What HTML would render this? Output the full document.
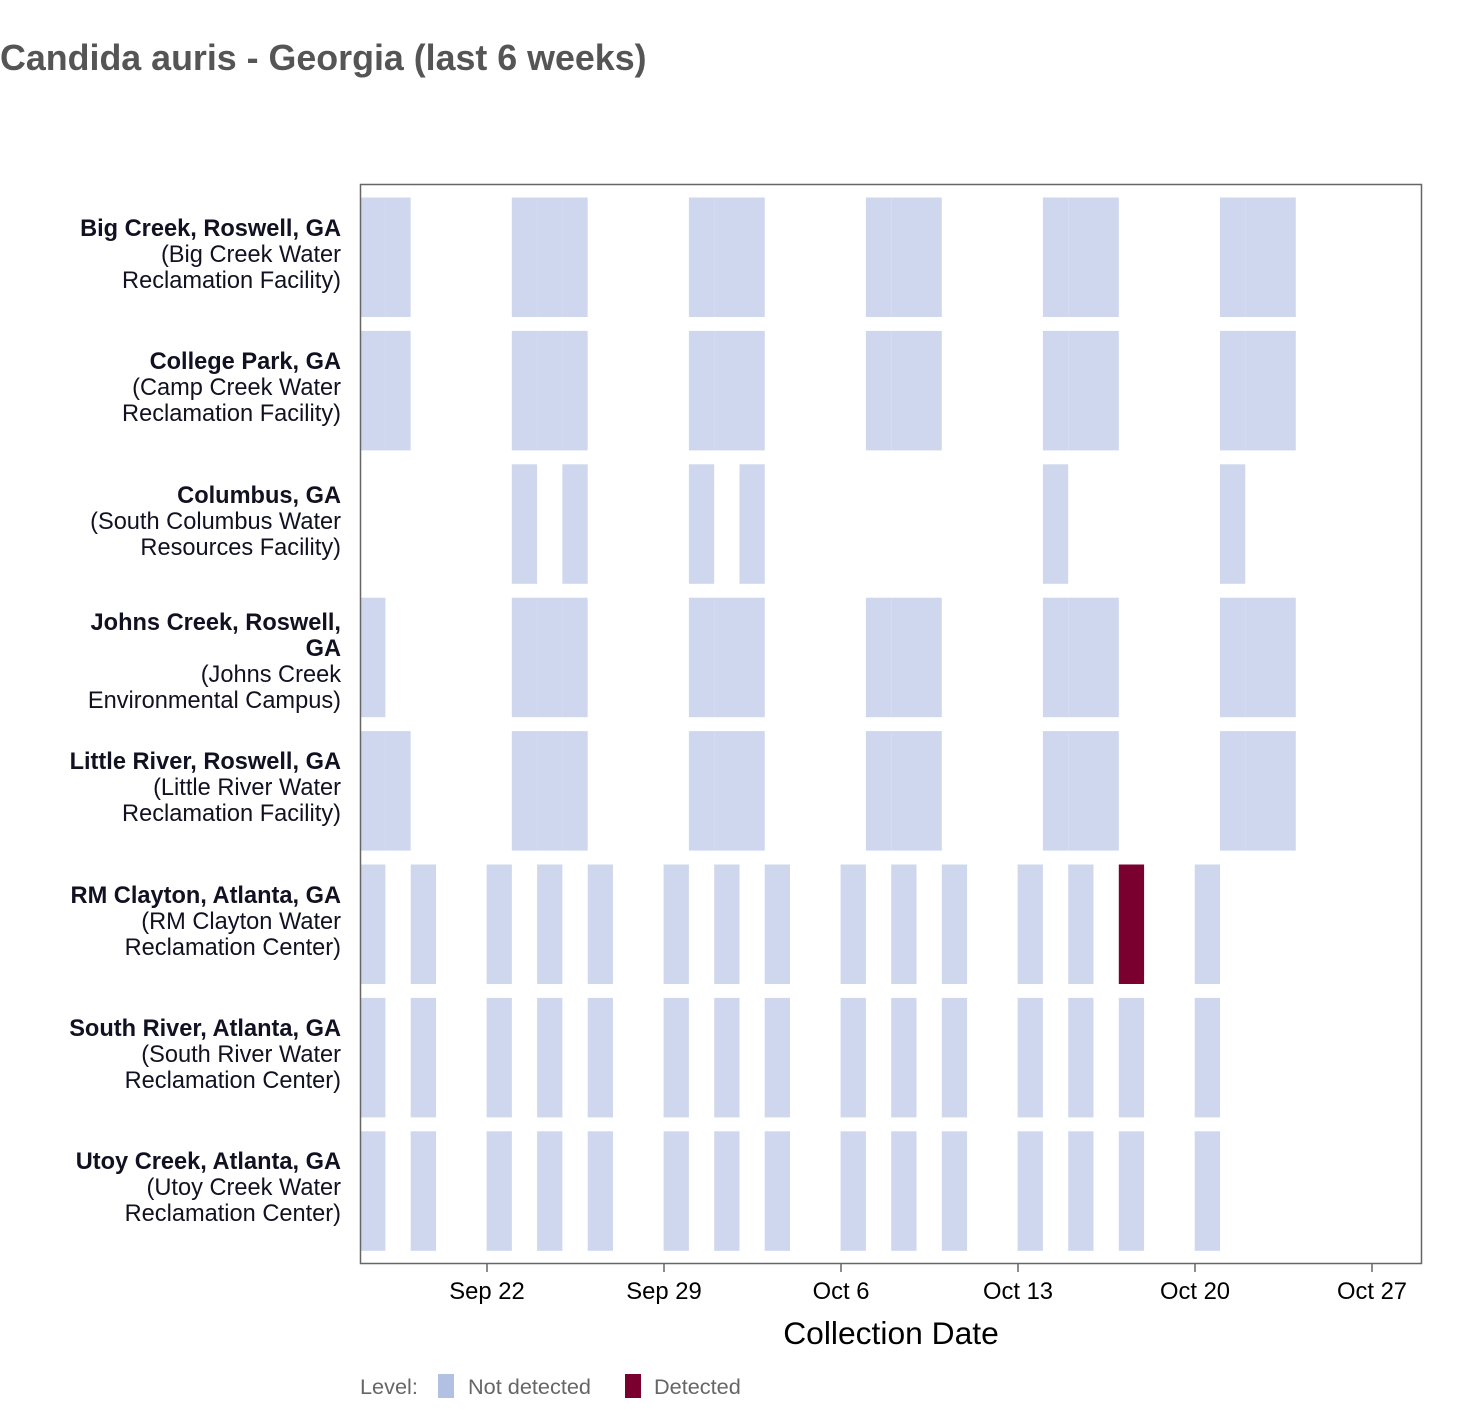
<!DOCTYPE html>
<html><head><meta charset="utf-8"><style>
body{margin:0;background:#fff;}
svg{display:block;font-family:"Liberation Sans",Arial,sans-serif;}
</style></head><body>
<svg id="s" width="1462" height="1414" xmlns="http://www.w3.org/2000/svg">
<text x="0" y="70" font-size="35.8" font-weight="bold" fill="#555">Candida auris - Georgia (last 6 weeks)</text>
<g id="bars"></g>
<rect x="360.5" y="184.5" width="1061" height="1079" fill="none" stroke="#666" stroke-width="1.5"/>
<g stroke="#666" stroke-width="1.5">
<line x1="487" y1="1263" x2="487" y2="1272"/><line x1="664" y1="1263" x2="664" y2="1272"/>
<line x1="841" y1="1263" x2="841" y2="1272"/><line x1="1018" y1="1263" x2="1018" y2="1272"/>
<line x1="1195" y1="1263" x2="1195" y2="1272"/><line x1="1372" y1="1263" x2="1372" y2="1272"/>
</g>
<g font-size="23.8" fill="#000" text-anchor="middle">
<text x="487" y="1299">Sep 22</text><text x="664" y="1299">Sep 29</text><text x="841" y="1299">Oct 6</text>
<text x="1018" y="1299">Oct 13</text><text x="1195" y="1299">Oct 20</text><text x="1372" y="1299">Oct 27</text>
<text x="891" y="1344" font-size="31.8">Collection Date</text>
</g>
<g font-size="23.6" fill="#111122" text-anchor="end">
<text x="341" y="236"><tspan font-weight="bold">Big Creek, Roswell, GA</tspan><tspan x="341" dy="26">(Big Creek Water</tspan><tspan x="341" dy="26">Reclamation Facility)</tspan></text>
<text x="341" y="369"><tspan font-weight="bold">College Park, GA</tspan><tspan x="341" dy="26">(Camp Creek Water</tspan><tspan x="341" dy="26">Reclamation Facility)</tspan></text>
<text x="341" y="503"><tspan font-weight="bold">Columbus, GA</tspan><tspan x="341" dy="26">(South Columbus Water</tspan><tspan x="341" dy="26">Resources Facility)</tspan></text>
<text x="341" y="630"><tspan font-weight="bold">Johns Creek, Roswell,</tspan><tspan x="341" dy="26" font-weight="bold">GA</tspan><tspan x="341" dy="26">(Johns Creek</tspan><tspan x="341" dy="26">Environmental Campus)</tspan></text>
<text x="341" y="769"><tspan font-weight="bold">Little River, Roswell, GA</tspan><tspan x="341" dy="26">(Little River Water</tspan><tspan x="341" dy="26">Reclamation Facility)</tspan></text>
<text x="341" y="903"><tspan font-weight="bold">RM Clayton, Atlanta, GA</tspan><tspan x="341" dy="26">(RM Clayton Water</tspan><tspan x="341" dy="26">Reclamation Center)</tspan></text>
<text x="341" y="1036"><tspan font-weight="bold">South River, Atlanta, GA</tspan><tspan x="341" dy="26">(South River Water</tspan><tspan x="341" dy="26">Reclamation Center)</tspan></text>
<text x="341" y="1169"><tspan font-weight="bold">Utoy Creek, Atlanta, GA</tspan><tspan x="341" dy="26">(Utoy Creek Water</tspan><tspan x="341" dy="26">Reclamation Center)</tspan></text>
</g>
<g font-size="21.7" fill="#666">
<text x="360" y="1394">Level:</text>
<rect x="438" y="1374" width="16" height="24" fill="#b2c1e3"/>
<text x="468" y="1394">Not detected</text>
<rect x="625" y="1374" width="16" height="24" fill="#7a0030"/>
<text x="654" y="1394">Detected</text>
</g>
</svg>
<script>
var a=[0,1,6,7,8,13,14,15,20,21,22,27,28,29,34,35,36];
var c=[6,8,13,15,27,34];
var j=[0,6,7,8,13,14,15,20,21,22,27,28,29,34,35,36];
var r=[0,2,5,7,9,12,14,16,19,21,23,26,28,30,33];
var rows=[a,a,c,j,a,r,r,r];
var g=document.getElementById('bars'),h='';
rows.forEach(function(row,i){
 var y=197.5+i*133.4;
 row.forEach(function(d){
  var x=360.1+d*25.29;
  var col=(i==5&&d==30)?'#7a0030':'#cfd7ee';
  h+='<rect x="'+x.toFixed(1)+'" y="'+y.toFixed(1)+'" width="25.29" height="119.5" fill="'+col+'"/>';
 });
});
g.innerHTML=h;
</script>
</body></html>
